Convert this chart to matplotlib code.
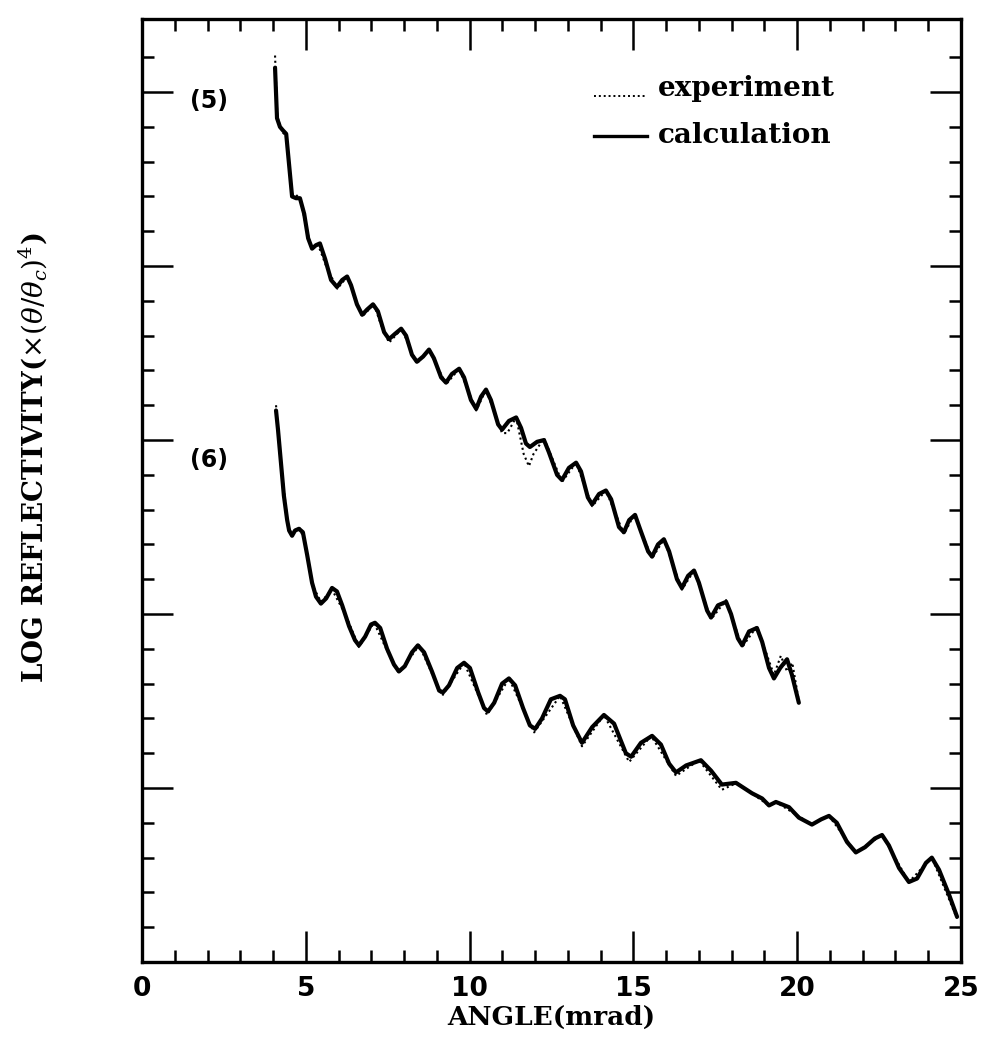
import numpy as np
import matplotlib
matplotlib.use("Agg")
import matplotlib.pyplot as plt

plt.rcParams["mathtext.fontset"] = "dejavuserif"

# sample (5): calculation
calc5_x = [4.06, 4.12, 4.21, 4.30, 4.40, 4.49, 4.58, 4.70, 4.82, 4.95, 5.07,
           5.19, 5.31, 5.43, 5.59, 5.77, 5.95, 6.11, 6.26, 6.38, 6.56, 6.72,
           6.87, 7.05, 7.20, 7.39, 7.54, 7.72, 7.91, 8.06, 8.24, 8.39, 8.58,
           8.76, 8.91, 9.13, 9.28, 9.46, 9.68, 9.83, 10.04, 10.20, 10.35,
           10.50, 10.65, 10.87, 10.99, 11.20, 11.42, 11.57, 11.72, 11.84,
           12.06, 12.27, 12.42, 12.67, 12.82, 13.03, 13.25, 13.40, 13.61,
           13.74, 13.95, 14.16, 14.32, 14.56, 14.71, 14.87, 15.05, 15.20,
           15.45, 15.57, 15.75, 15.93, 16.09, 16.33, 16.48, 16.67, 16.85,
           17.00, 17.25, 17.37, 17.58, 17.83, 17.98, 18.19, 18.32, 18.53,
           18.77, 18.93, 19.14, 19.29, 19.48, 19.69, 19.84, 20.05]
calc5_y = [4.14, 3.85, 3.80, 3.78, 3.76, 3.58, 3.40, 3.39, 3.39, 3.30, 3.16,
           3.10, 3.12, 3.13, 3.04, 2.92, 2.88, 2.92, 2.94, 2.89, 2.78, 2.72,
           2.75, 2.78, 2.74, 2.62, 2.58, 2.61, 2.64, 2.60, 2.49, 2.45, 2.48,
           2.52, 2.47, 2.36, 2.33, 2.38, 2.41, 2.36, 2.23, 2.18, 2.25,
           2.29, 2.23, 2.09, 2.06, 2.11, 2.13, 2.07, 1.98, 1.96,
           1.99, 2.00, 1.93, 1.80, 1.77, 1.84, 1.87, 1.82, 1.67,
           1.63, 1.69, 1.71, 1.66, 1.50, 1.47, 1.54, 1.57, 1.49,
           1.36, 1.33, 1.40, 1.43, 1.36, 1.20, 1.15, 1.22, 1.25,
           1.18, 1.02, 0.98, 1.05, 1.07, 1.00, 0.86, 0.82, 0.90,
           0.92, 0.84, 0.69, 0.63, 0.69, 0.74, 0.65, 0.49]

# sample (5): experiment
exp5_x = [4.06, 4.13, 4.21, 4.28, 4.39, 4.49, 4.59, 4.70, 4.84, 4.95, 5.15,
          5.20, 5.38, 5.62, 5.96, 6.27, 6.47, 6.72, 7.08, 7.30, 7.54, 7.93,
          8.15, 8.39, 8.76, 9.28, 9.68, 10.20, 10.50, 10.99, 11.15, 11.42,
          11.65, 11.81, 11.95, 12.27, 12.82, 13.25, 13.74, 14.16, 14.71,
          15.02, 15.57, 15.93, 16.48, 16.85, 17.37, 17.83, 18.32, 18.77,
          19.29, 19.50, 19.69, 19.85, 20.05]
exp5_y = [4.21, 3.86, 3.81, 3.77, 3.75, 3.56, 3.41, 3.41, 3.38, 3.28, 3.11,
          3.10, 3.12, 3.00, 2.87, 2.94, 2.83, 2.71, 2.78, 2.66, 2.56, 2.64,
          2.54, 2.44, 2.52, 2.32, 2.41, 2.17, 2.29, 2.04, 2.04, 2.13,
          1.92, 1.85, 1.92, 2.01, 1.76, 1.87, 1.62, 1.71, 1.46,
          1.57, 1.32, 1.43, 1.14, 1.25, 0.97, 1.08, 0.81, 0.93,
          0.65, 0.76, 0.67, 0.72, 0.50]

# sample (6): calculation
calc6_x = [4.09, 4.15, 4.24, 4.33, 4.43, 4.49, 4.58, 4.67, 4.79, 4.91, 5.04,
           5.19, 5.31, 5.46, 5.62, 5.80, 5.95, 6.11, 6.32, 6.50, 6.62, 6.81,
           6.99, 7.11, 7.27, 7.48, 7.69, 7.84, 8.02, 8.24, 8.42, 8.61, 8.85,
           9.07, 9.19, 9.37, 9.62, 9.83, 10.01, 10.26, 10.44, 10.56, 10.75,
           10.99, 11.20, 11.39, 11.63, 11.84, 12.00, 12.21, 12.48, 12.76,
           12.91, 13.16, 13.43, 13.74, 14.10, 14.41, 14.77, 14.93, 15.23,
           15.57, 15.84, 16.09, 16.30, 16.61, 17.06, 17.37, 17.70, 18.13,
           18.62, 18.93, 19.14, 19.35, 19.75, 20.05, 20.45, 20.73, 20.97,
           21.21, 21.52, 21.79, 22.07, 22.37, 22.59, 22.80, 23.11, 23.41,
           23.66, 23.93, 24.11, 24.33, 24.63, 24.88]
calc6_y = [2.17, 2.06, 1.87, 1.68, 1.54, 1.48, 1.45, 1.48, 1.49, 1.47, 1.34,
           1.18, 1.10, 1.06, 1.09, 1.15, 1.13, 1.05, 0.93, 0.85, 0.82, 0.87,
           0.94, 0.95, 0.92, 0.80, 0.71, 0.67, 0.70, 0.78, 0.82, 0.78, 0.67,
           0.56, 0.55, 0.59, 0.69, 0.72, 0.69, 0.55, 0.46, 0.44, 0.49,
           0.60, 0.63, 0.59, 0.46, 0.36, 0.34, 0.40, 0.51, 0.53,
           0.51, 0.36, 0.26, 0.35, 0.42, 0.37, 0.20, 0.18, 0.26,
           0.30, 0.25, 0.14, 0.09, 0.13, 0.16, 0.10, 0.02, 0.03,
           -0.03, -0.06, -0.10, -0.08, -0.11, -0.17, -0.21, -0.18, -0.16,
           -0.20, -0.31, -0.37, -0.34, -0.29, -0.27, -0.33, -0.46, -0.54,
           -0.52, -0.43, -0.40, -0.47, -0.61, -0.74]

# sample (6): experiment
exp6_x = [4.09, 4.15, 4.24, 4.43, 4.49, 4.58, 4.79, 4.95, 5.19, 5.46, 5.80,
          6.23, 6.62, 7.08, 7.48, 7.84, 8.46, 9.16, 9.83, 10.53, 11.20,
          11.97, 12.76, 13.43, 14.10, 14.87, 15.54, 16.30, 17.00, 17.70,
          18.16, 19.14, 19.35, 20.45, 20.97, 21.79, 22.59, 23.41, 24.11,
          24.88]
exp6_y = [2.20, 2.05, 1.86, 1.55, 1.49, 1.46, 1.50, 1.43, 1.17, 1.07, 1.14,
          0.99, 0.81, 0.95, 0.79, 0.66, 0.82, 0.53, 0.72, 0.42, 0.63,
          0.32, 0.53, 0.24, 0.42, 0.15, 0.30, 0.07, 0.16, -0.01,
          0.03, -0.10, -0.08, -0.21, -0.16, -0.37, -0.27, -0.54, -0.40,
          -0.75]

fig = plt.figure(figsize=(9.81, 10.49), dpi=100)
ax = fig.add_axes([0.1448, 0.0829, 0.8348, 0.899])

ax.plot(calc5_x, calc5_y, color="black", lw=3.0, solid_joinstyle="round",
        solid_capstyle="round")
ax.plot(exp5_x, exp5_y, color="black", lw=1.5, ls=(0, (1, 1.5)))
ax.plot(calc6_x, calc6_y, color="black", lw=3.0, solid_joinstyle="round",
        solid_capstyle="round")
ax.plot(exp6_x, exp6_y, color="black", lw=1.5, ls=(0, (1, 1.5)))

ax.set_xlim(0, 25)
ax.set_ylim(-1.0, 4.42)

ax.set_xticks(np.arange(0, 26, 5))
ax.set_xticks(np.arange(0, 26, 1), minor=True)
ax.set_yticks(np.arange(0, 5, 1))
ax.set_yticks(np.arange(-0.8, 4.3, 0.2), minor=True)
ax.set_yticklabels([])
ax.tick_params(which="both", direction="in", top=True, right=True, width=1.8)
ax.tick_params(which="major", length=22)
ax.tick_params(which="minor", length=8.5)
ax.tick_params(axis="x", which="major", labelsize=19, pad=10)
for lab in ax.get_xticklabels():
    lab.set_fontweight("bold")
    lab.set_family("DejaVu Sans")
for s in ax.spines.values():
    s.set_linewidth(2.4)

ax.set_xlabel("ANGLE(mrad)", fontsize=19, fontweight="bold",
              family="DejaVu Serif", labelpad=2)
ax.set_ylabel(r"LOG REFLECTIVITY($\times(\theta/\theta_c)^4$)", fontsize=20,
              fontweight="bold", family="DejaVu Serif")
ax.yaxis.set_label_coords(-0.113, 0.535)

ax.text(2.05, 3.95, "(5)", fontsize=17, fontweight="bold", ha="center", va="center")
ax.text(2.05, 1.885, "(6)", fontsize=17, fontweight="bold", ha="center", va="center")

# legend drawn by hand like the original
ax.plot([13.8, 15.4], [3.98, 3.98], color="black", lw=1.4, ls=(0, (1, 1.5)))
ax.plot([13.8, 15.4], [3.75, 3.75], color="black", lw=2.4)
ax.text(15.75, 4.02, "experiment", fontsize=20, fontweight="bold",
        family="DejaVu Serif", va="center")
ax.text(15.75, 3.75, "calculation", fontsize=20, fontweight="bold",
        family="DejaVu Serif", va="center")

fig.savefig("out.png", dpi=100)
